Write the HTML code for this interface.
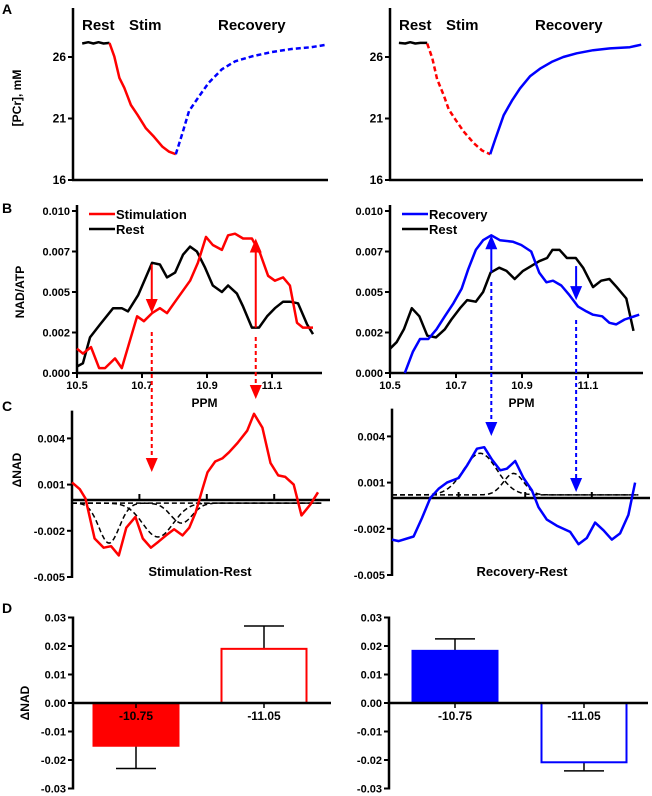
<!DOCTYPE html>
<html><head><meta charset="utf-8"><style>
html,body{margin:0;padding:0;background:#fff;}
svg{display:block;font-family:"Liberation Sans",Arial,sans-serif;}
text{font-weight:bold;}
</style></head><body>
<svg id="fig" width="652" height="796" viewBox="0 0 652 796" xmlns="http://www.w3.org/2000/svg">
<g font-size="14">
<text x="2" y="14">A</text>
<text x="2" y="213">B</text>
<text x="2" y="411">C</text>
<text x="2" y="613">D</text>
</g>
</svg>
<script>
// ---------- Panel A data (time 0-100 arbitrary units, PCr mM) ----------
const aLeftRestT=[3.6,6,8,10,12,14.3];
const aLeftRestV=[27.1,27.2,27.1,27.2,27.1,27.15];
const aLeftStimT=[14.3,16.2,18.2,20.1,22.7,25.3,28.6,31.8,35.1,37.7,40.3];
const aLeftStimV=[27.14,26.05,24.3,23.5,22.1,21.3,20.2,19.5,18.7,18.3,18.1];
const aLeftRecT=[40.3,42.9,45.5,49.4,53.2,58.4,63.6,70.1,77.9,85.7,93.5,99.4];
const aLeftRecV=[18.1,19.8,21.6,22.8,23.9,25.0,25.65,26.05,26.4,26.65,26.8,27.0];
const aRightRestT=[3.5,6,8,10,12,14.7];
const aRightRestV=[27.15,27.1,27.2,27.1,27.15,27.15];
const aRightStimT=[14.7,16.7,18.6,21.3,23.2,25.9,29.1,33.1,36.4,39.6];
const aRightStimV=[27.1,25.9,24.2,22.85,21.75,20.9,19.95,19.0,18.4,18.1];
const aRightRecT=[39.6,41.6,44.9,48.2,51.4,55.4,59.3,63.9,68.5,73.8,80.3,86.9,94.8,99.3];
const aRightRecV=[18.1,19.3,21.25,22.45,23.45,24.45,25.05,25.6,26.0,26.3,26.55,26.7,26.8,27.0];
const aTicks=[16,21,26];
// ---------- Panel B data (ppm, NAD/ATP) ----------
const bStimPpm=[10.5,10.518,10.543,10.568,10.586,10.617,10.638,10.685,10.706,10.731,10.755,10.777,10.802,10.848,10.872,10.897,10.918,10.946,10.965,10.986,11.011,11.038,11.063,11.088,11.109,11.134,11.155,11.177,11.195,11.226];
const bStimVal=[0.0015,0.0012,0.0016,0.0003,0.0003,0.0009,0.0003,0.0035,0.0032,0.0037,0.004,0.0037,0.0044,0.0057,0.0068,0.0084,0.0079,0.0076,0.0085,0.0086,0.0083,0.0083,0.0074,0.006,0.0057,0.0059,0.0054,0.0031,0.0028,0.0028];
const bRestLPpm=[10.5,10.518,10.54,10.571,10.611,10.638,10.657,10.688,10.731,10.755,10.777,10.802,10.826,10.848,10.869,10.894,10.918,10.946,10.965,10.992,11.011,11.038,11.06,11.085,11.109,11.134,11.155,11.18,11.208,11.226];
const bRestLVal=[0.0004,0.0006,0.0022,0.003,0.004,0.004,0.0038,0.0048,0.0068,0.0067,0.0059,0.0062,0.0073,0.0078,0.0075,0.0065,0.0054,0.005,0.0054,0.0049,0.0041,0.0028,0.0028,0.0035,0.004,0.0044,0.0044,0.0043,0.003,0.0024];
const bRecPpm=[10.545,10.569,10.591,10.616,10.641,10.666,10.692,10.717,10.737,10.76,10.782,10.807,10.833,10.873,10.898,10.928,10.952,10.974,10.994,11.019,11.044,11.07,11.095,11.115,11.143,11.165,11.185,11.211,11.255];
const bRecVal=[0,0.0013,0.0021,0.0021,0.0027,0.0035,0.0043,0.0052,0.0064,0.0076,0.0082,0.0085,0.0082,0.0081,0.0079,0.0075,0.0062,0.0056,0.0057,0.0054,0.0048,0.0041,0.0038,0.0036,0.0035,0.0031,0.003,0.0033,0.0036];
const bRestRPpm=[10.5,10.52,10.542,10.566,10.589,10.613,10.639,10.666,10.686,10.712,10.734,10.76,10.782,10.805,10.831,10.853,10.878,10.903,10.928,10.952,10.976,10.992,11.014,11.036,11.063,11.085,11.115,11.14,11.165,11.187,11.216,11.238];
const bRestRVal=[0.0015,0.0019,0.0027,0.004,0.0035,0.0023,0.0022,0.0027,0.0033,0.004,0.0045,0.0044,0.005,0.0062,0.0065,0.0063,0.0058,0.0063,0.0066,0.0069,0.0071,0.0076,0.0076,0.0071,0.0071,0.0065,0.0053,0.0057,0.0058,0.0053,0.0046,0.0026];
const bTickVals=[0,0.0025,0.005,0.0075,0.01];
const bTickLabels=["0.000","0.002","0.005","0.007","0.010"];
const ppmTicks=[10.5,10.7,10.9,11.1];
const ppmLabels=["10.5","10.7","10.9","11.1"];
// ---------- Panel C data (ppm, delta NAD) ----------
const cStimPpm=[10.5,10.523,10.54,10.567,10.594,10.616,10.639,10.661,10.688,10.71,10.734,10.757,10.779,10.803,10.828,10.848,10.867,10.887,10.902,10.925,10.946,10.966,10.991,11.02,11.04,11.065,11.089,11.112,11.133,11.158,11.181,11.207,11.23];
const cStimVal=[0.00114,0.0007,0.0001,-0.0025,-0.0031,-0.003,-0.0036,-0.0018,-0.0011,-0.0025,-0.0031,-0.0027,-0.0023,-0.0019,-0.0023,-0.0018,-0.0008,0.0007,0.0018,0.0025,0.0027,0.0031,0.0037,0.0045,0.0056,0.0047,0.0024,0.0016,0.0015,0.001,-0.001,-0.0003,0.0005];
const cRecPpm=[10.5,10.52,10.565,10.59,10.615,10.64,10.665,10.7,10.725,10.755,10.777,10.8,10.825,10.845,10.87,10.895,10.92,10.94,10.965,10.995,11.035,11.06,11.085,11.11,11.135,11.16,11.185,11.21,11.23];
const cRecVal=[-0.0027,-0.0028,-0.0025,-0.0013,0,0.0006,0.001,0.0013,0.0021,0.0032,0.0033,0.0025,0.0018,0.0019,0.0024,0.0013,0.0005,-0.0006,-0.0014,-0.0018,-0.0022,-0.003,-0.0026,-0.0016,-0.0021,-0.0027,-0.0023,-0.0011,0.001];
const cStimPeakCenter=[10.61,10.755,10.825];
const cStimPeakAmp=[-0.0026,-0.0022,-0.0013];
const cStimPeakWidth=[0.03,0.045,0.032];
const cRecPeakCenter=[10.765,10.865];
const cRecPeakAmp=[0.0027,0.0014];
const cRecPeakWidth=[0.05,0.03];
const cTickVals=[0.004,0.001,-0.002,-0.005];
const cTickLabels=["0.004","0.001","-0.002","-0.005"];
// ---------- Panel D data ----------
const dCategories=["-10.75","-11.05"];
const dStimMeans=[-0.015,0.019];
const dStimErr=[0.008,0.008];
const dRecMeans=[0.0183,-0.0208];
const dRecErr=[0.0042,0.003];
const dTickVals=[0.03,0.02,0.01,0,-0.01,-0.02,-0.03];
const dTickLabels=["0.03","0.02","0.01","0.00","-0.01","-0.02","-0.03"];

const svg=document.getElementById('fig');
const NS='http://www.w3.org/2000/svg';
function mk(tag,attrs,parent){const e=document.createElementNS(NS,tag);for(const k in attrs)e.setAttribute(k,attrs[k]);(parent||svg).appendChild(e);return e;}
function line(x1,y1,x2,y2,stroke,w,dash,p){const l=mk('line',{x1,y1,x2,y2,stroke,'stroke-width':w},p);if(dash)l.setAttribute('stroke-dasharray',dash);return l;}
function txt(x,y,s,size,anchor,p,fill){const t=mk('text',{x,y,'font-size':size,'text-anchor':anchor||'start',fill:fill||'#000'},p);t.textContent=s;return t;}
function poly(xs,ys,sx,sy,stroke,w,dash,p){const pts=xs.map((v,i)=>sx(v).toFixed(1)+','+sy(ys[i]).toFixed(1)).join(' ');const pl=mk('polyline',{points:pts,fill:'none',stroke,'stroke-width':w,'stroke-linejoin':'round'},p);if(dash)pl.setAttribute('stroke-dasharray',dash);return pl;}
function head(x,y,dir,color,p){const h=dir>0?-14:14;return mk('polygon',{points:`${x-6},${y+h} ${x+6},${y+h} ${x},${y}`,fill:color},p);}
function yAxis(x,y1,y2,vals,labels,sy,p,fs){line(x,y1,x,y2,'#000',2.5,null,p);vals.forEach((v,i)=>{line(x-5,sy(v),x,sy(v),'#000',2,null,p);txt(x-7,sy(v)+4,labels[i],fs||11,'end',p);});}

// ---------- Panel A ----------
function panelA(x0,x1,name,restT,restV,stimT,stimV,recT,recV,stimDash,recDash){
  const g=mk('g',{});
  
  
  const sx=t=>x0+t/100*(x1-x0), sy=v=>180-(v-16)*12.3;
  yAxis(x0,8,181,aTicks,aTicks.map(String),sy,g,12);
  line(x0-1,180,x1,180,'#000',2.5,null,g);
  const r=poly(restT,restV,sx,sy,'#000',2.5,null,g);
  
  const s=poly(stimT,stimV,sx,sy,'#f00',2.5,stimDash,g);
  
  const c=poly(recT,recV,sx,sy,'#00f',2.5,recDash,g);
  
  txt(x0+9,30,'Rest',15,'start',g);txt(x0+56,30,'Stim',15,'start',g);txt(x0+145,30,'Recovery',15,'start',g);
}
panelA(73,328,'pcr-chart-stim',aLeftRestT,aLeftRestV,aLeftStimT,aLeftStimV,aLeftRecT,aLeftRecV,null,'5,3');
panelA(390,643,'pcr-chart-recovery',aRightRestT,aRightRestV,aRightStimT,aRightStimV,aRightRecT,aRightRecV,'5,3',null);
const at=txt(0,0,'[PCr], mM',12,'middle');
at.setAttribute('transform','translate(21,98) rotate(-90)');


// ---------- Panel B ----------
function panelB(x0,x1,k,name,aVals,aPpm,aColor,bPpm,bVals,legA){
  const g=mk('g',{});
  
  
  const sx=p=>x0+(p-10.5)*k, sy=v=>373-v*16200;
  yAxis(x0,205,374,bTickVals,bTickLabels,sy,g,11);
  line(x0-1,373,x1,373,'#000',2.5,null,g);
  ppmTicks.forEach((p,i)=>{line(sx(p),373,sx(p),378,'#000',2,null,g);txt(sx(p),389,ppmLabels[i],11,'middle',g);});
  txt((x0+x1)/2+5,407,'PPM',12,'middle',g);
  const r=poly(bPpm,bVals,sx,sy,'#000',2.5,null,g);
  
  const a=poly(aPpm,aVals,sx,sy,aColor,2.5,null,g);
  
  line(x0+12,214,x0+38,214,aColor,2.5,null,g);txt(x0+39,219,legA,13,'start',g).setAttribute('font-weight','normal');
  line(x0+12,229,x0+38,229,'#000',2.5,null,g);txt(x0+39,234,'Rest',13,'start',g).setAttribute('font-weight','normal');
  return {sx,sy,g};
}
const BL=panelB(77,322,325,'nad-spectrum-stim',bStimVal,bStimPpm,'#f00',bRestLPpm,bRestLVal,'Stimulation');
const BR=panelB(390,643,330,'nad-spectrum-recovery',bRecVal,bRecPpm,'#00f',bRestRPpm,bRestRVal,'Recovery');
const bt=txt(0,0,'NAD/ATP',12,'middle');
bt.setAttribute('transform','translate(24,292) rotate(-90)');


// ---------- Panel C ----------
function panelC(x0,x1,k,zeroY,name,ppm,vals,color,pc,pa,pw,base,label,lx){
  const g=mk('g',{});
  
  
  const sx=p=>x0+(p-10.5)*k, sy=v=>zeroY-v*15400;
  yAxis(x0,sy(0.0058),sy(-0.005)+1,cTickVals,cTickLabels,sy,g,11);
  line(x0,zeroY,x1,zeroY,'#000',2.5,null,g);
  ppmTicks.slice(1).forEach(p=>line(sx(p),zeroY,sx(p),zeroY-6,'#000',2,null,g));
  const gx=[];for(let p=10.5;p<=11.245;p+=0.005)gx.push(p);
  pc.forEach((c,i)=>{const gy=gx.map(p=>base+pa[i]*Math.exp(-Math.pow(p-c,2)/(2*pw[i]*pw[i])));
    const d=poly(gx,gy,sx,sy,'#000',1.5,'5,3',g);
    });
  const m=poly(ppm,vals,sx,sy,color,2.5,null,g);
  
  txt(lx,576,label,13,'middle',g);
  return {sx,sy};
}
panelC(72,330,337,500,'delta-nad-stim',cStimPpm,cStimVal,'#f00',cStimPeakCenter,cStimPeakAmp,cStimPeakWidth,-0.0002,'Stimulation-Rest',200);
panelC(392,650,333,498,'delta-nad-recovery',cRecPpm,cRecVal,'#00f',cRecPeakCenter,cRecPeakAmp,cRecPeakWidth,0.0002,'Recovery-Rest',522);
const ct=txt(0,0,'\u0394NAD',12,'middle');
ct.setAttribute('transform','translate(21,470) rotate(-90)');


// ---------- Arrows ----------
const ag=mk('g',{});


(function(){
  let x=BL.sx(10.73);line(x,BL.sy(0.0067),x,BL.sy(0.0037)-12,'#f00',2,null,ag);head(x,BL.sy(0.0037),1,'#f00',ag);
  line(x,332,x,458,'#f00',2,'4,3',ag);head(x,472,1,'#f00',ag);
  x=BL.sx(11.05);line(x,BL.sy(0.0028),x,BL.sy(0.0083)+12,'#f00',2,null,ag);head(x,BL.sy(0.0083),-1,'#f00',ag);
  line(x,337,x,386,'#f00',2,'4,3',ag);head(x,399,1,'#f00',ag);
  x=BR.sx(10.807);line(x,BR.sy(0.0062),x,BR.sy(0.0085)+12,'#00f',2,null,ag);head(x,BR.sy(0.0085),-1,'#00f',ag);
  line(x,282,x,422,'#00f',2,'4,3',ag);head(x,436,1,'#00f',ag);
  x=BR.sx(11.064);line(x,BR.sy(0.0066),x,BR.sy(0.0045)-12,'#00f',2,null,ag);head(x,BR.sy(0.0045),1,'#00f',ag);
  line(x,320,x,478,'#00f',2,'4,3',ag);head(x,492,1,'#00f',ag);
})();

// ---------- Panel D ----------
function panelD(x0,x1,name,means,errs,color,centers){
  const g=mk('g',{});
  
  
  const sy=v=>703-v*2850;
  yAxis(x0,sy(0.03)-1,sy(-0.03)+1,dTickVals,dTickLabels,sy,g,11);
  const bw=85;
  means.forEach((m,i)=>{
    const cx=centers[i], top=Math.min(sy(0),sy(m)), h=Math.abs(sy(m)-sy(0));
    const ey=sy(m+Math.sign(m)*errs[i]);
    line(cx,sy(m),cx,ey,'#000',1.5,null,g);line(cx-20,ey,cx+20,ey,'#000',1.5,null,g);
    const b=mk('rect',{x:cx-bw/2,y:top,width:bw,height:h,fill:i===0?color:'#fff',stroke:color,'stroke-width':2},g);
    
    line(cx,sy(0),cx,sy(0)+5,'#000',1.5,null,g);
    txt(cx,sy(0)+17,dCategories[i],12,'middle',g);
  });
  line(x0,sy(0),x1,sy(0),'#000',2.5,null,g);
}
panelD(73,331,'delta-nad-bars-stim',dStimMeans,dStimErr,'#f00',[136,264]);
panelD(389,648,'delta-nad-bars-recovery',dRecMeans,dRecErr,'#00f',[455,584]);
const dt=txt(0,0,'\u0394NAD',12,'middle');
dt.setAttribute('transform','translate(29,703) rotate(-90)');

</script>
</body></html>
